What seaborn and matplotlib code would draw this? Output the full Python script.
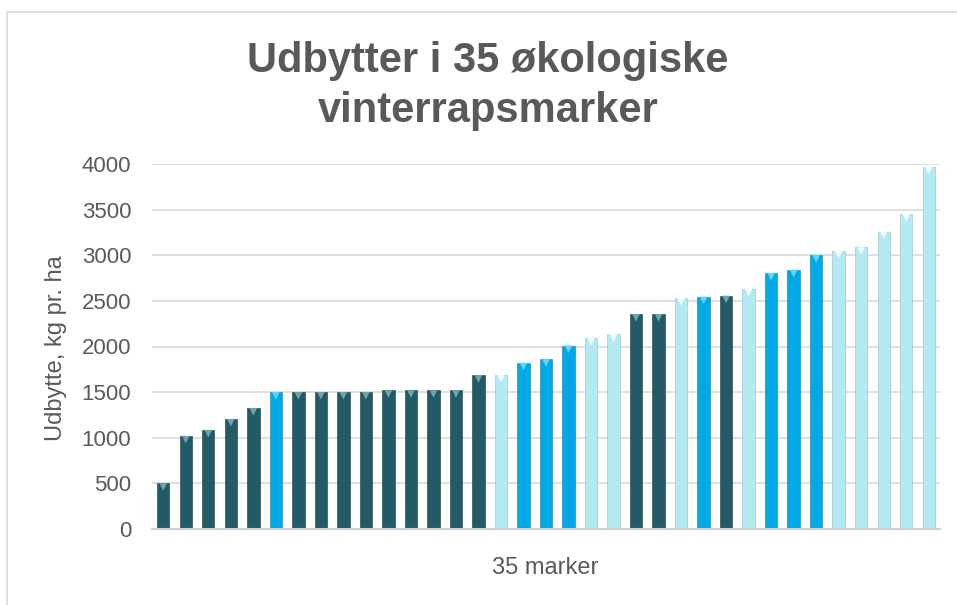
import matplotlib
matplotlib.use("Agg")
import matplotlib.pyplot as plt
import seaborn as sns
import pandas as pd
from matplotlib.patches import Rectangle

fields = [str(i) for i in range(1, 36)]
yields = [500, 1020, 1085, 1205, 1325, 1500, 1500, 1500, 1500, 1500,
          1520, 1520, 1520, 1520, 1685, 1685, 1820, 1860, 2010, 2090,
          2135, 2355, 2355, 2530, 2545, 2555, 2630, 2805, 2840, 3000,
          3045, 3085, 3260, 3450, 3965]
groups = ["D", "D", "D", "D", "D", "B", "D", "D", "D", "D",
          "D", "D", "D", "D", "D", "L", "B", "B", "B", "L",
          "L", "D", "D", "L", "B", "D", "L", "B", "B", "B",
          "L", "L", "L", "L", "L"]
palette = {"D": "#225B66", "B": "#00A9E6", "L": "#B3EAF2"}
tops = {"D": "#6FA3AE", "B": "#5FD6FA", "L": "#F2FDFF"}
edges = {"D": "#153A42", "B": "#0085B5", "L": "#8FBFC6"}

title_lines = ["Udbytter i 35 økologiske", "vinterrapsmarker"]
ylabel = "Udbytte, kg pr. ha"
xlabel = "35 marker"
yticks = [0, 500, 1000, 1500, 2000, 2500, 3000, 3500, 4000]

df = pd.DataFrame({"field": fields, "yield": yields, "group": groups})

sns.set_theme(style="white")
plt.rcParams["font.family"] = ["Liberation Sans", "DejaVu Sans"]

fig = plt.figure(figsize=(9.57, 6.05), dpi=100)
fig.patches.append(Rectangle((7 / 957, -0.1), 1.2, 1 - 12 / 605 + 0.1,
                             transform=fig.transFigure, fill=False,
                             edgecolor="#D9D9D9", linewidth=1.2))
ax = fig.add_axes([152 / 957, 1 - 529 / 605, (940 - 152) / 957, (529 - 164) / 605])

sns.barplot(data=df, x="field", y="yield", hue="group", palette=palette,
            order=fields, dodge=False, width=0.55, legend=False, ax=ax,
            linewidth=0.4, saturation=1)
for p, g in zip(sorted([r for r in ax.patches if r.get_height() > 0],
                       key=lambda r: r.get_x()), groups):
    p.set_edgecolor(edges[g])

# small bevel highlight at bar tops
ax.scatter(range(len(fields)), [v - 40 for v in yields], marker="v", s=30,
           c=[tops[g] for g in groups], linewidths=0, zorder=5)

ax.set_ylim(0, 4000)
ax.set_xlim(-0.5, len(fields) - 0.5)
ax.set_yticks(yticks)
ax.set_yticklabels([str(t) for t in yticks], fontsize=16, color="#595959")
ax.set_xticks([])
ax.tick_params(axis="y", length=0, pad=15)
ax.yaxis.grid(True, color="#D9D9D9", linewidth=1.2)
ax.set_axisbelow(True)
for s in ["top", "right", "left"]:
    ax.spines[s].set_visible(False)
ax.spines["bottom"].set_color("#D0D0D0")
ax.spines["bottom"].set_linewidth(1.5)
ax.set_xlabel("")
ax.set_ylabel("")

fig.text(56 / 957, 1 - 348 / 605, ylabel, rotation=90, ha="center", va="center",
         fontsize=17, color="#595959")
fig.text(545 / 957, 1 - 568 / 605, xlabel, ha="center", va="center",
         fontsize=17, color="#595959")
for line, base in zip(title_lines, [72, 122]):
    fig.text(488 / 957, 1 - base / 605, line, ha="center", va="baseline",
             fontsize=30, fontweight="bold", color="#595959")

fig.savefig("out.png", dpi=100, facecolor="white")
